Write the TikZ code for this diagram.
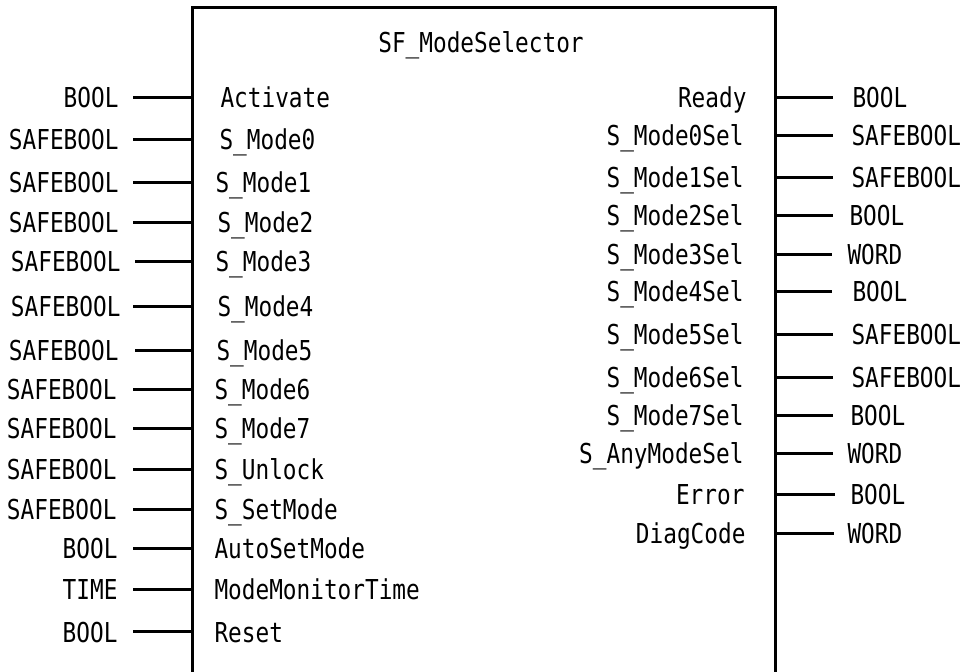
\documentclass[tikz,border=0pt]{standalone}
\usepackage{fontspec}
\newfontfamily\plcfont[FakeStretch=0.83]{DejaVu Sans Mono}

\begin{document}
\begin{tikzpicture}[x=0.5pt, y=-0.5pt, line width=1.5pt,
  every node/.style={font=\plcfont\fontsize{13.7pt}{16pt}\selectfont,
    inner sep=0pt, text height=10pt, text depth=0pt},
  inport/.style={anchor=west}, outport/.style={anchor=east},
  intype/.style={anchor=east}, outtype/.style={anchor=west}]
  \useasboundingbox (0,0) rectangle (963,672);

  % 功能块外框（下边在图外）
  \coordinate (bL) at (192,8);
  \coordinate (bR) at (775,8);
  \draw (bL |- 0,672) -- (bL) -- (bR) -- (bR |- 0,672);
  \node (title) at (481,43) {SF\_ModeSelector};

  % 输入
  \node[intype] (tAct) at (120,98) {BOOL};      \node[inport] (act) at (219,98) {Activate};
  \draw (tAct.east) ++(13,0) -- (bL |- act);
  \node[intype] (tM0) at (120,140) {SAFEBOOL};  \node[inport] (m0) at (218,140) {S\_Mode0};
  \draw (tM0.east) ++(13,0) -- (bL |- m0);
  \node[intype] (tM1) at (120,183) {SAFEBOOL};  \node[inport] (m1) at (214,183) {S\_Mode1};
  \draw (tM1.east) ++(13,0) -- (bL |- m1);
  \node[intype] (tM2) at (120,223) {SAFEBOOL};  \node[inport] (m2) at (216,223) {S\_Mode2};
  \draw (tM2.east) ++(13,0) -- (bL |- m2);
  \node[intype] (tM3) at (122,262) {SAFEBOOL};  \node[inport] (m3) at (214,262) {S\_Mode3};
  \draw (tM3.east) ++(13,0) -- (bL |- m3);
  \node[intype] (tM4) at (122,307) {SAFEBOOL};  \node[inport] (m4) at (216,307) {S\_Mode4};
  \draw (tM4.east) ++(11,0) -- (bL |- m4);
  \node[intype] (tM5) at (120,351) {SAFEBOOL};  \node[inport] (m5) at (215,351) {S\_Mode5};
  \draw (tM5.east) ++(15,0) -- (bL |- m5);
  \node[intype] (tM6) at (118,390) {SAFEBOOL};  \node[inport] (m6) at (213,390) {S\_Mode6};
  \draw (tM6.east) ++(15,0) -- (bL |- m6);
  \node[intype] (tM7) at (118,429) {SAFEBOOL};  \node[inport] (m7) at (213,429) {S\_Mode7};
  \draw (tM7.east) ++(15,0) -- (bL |- m7);
  \node[intype] (tUnl) at (118,470) {SAFEBOOL}; \node[inport] (unl) at (213,470) {S\_Unlock};
  \draw (tUnl.east) ++(15,0) -- (bL |- unl);
  \node[intype] (tSet) at (118,510) {SAFEBOOL}; \node[inport] (set) at (213,510) {S\_SetMode};
  \draw (tSet.east) ++(15,0) -- (bL |- set);
  \node[intype] (tAuto) at (119,549) {BOOL};    \node[inport] (auto) at (213,549) {AutoSetMode};
  \draw (tAuto.east) ++(14,0) -- (bL |- auto);
  \node[intype] (tMon) at (119,590) {TIME};     \node[inport] (mon) at (213,590) {ModeMonitorTime};
  \draw (tMon.east) ++(14,0) -- (bL |- mon);
  \node[intype] (tRst) at (119,632) {BOOL};     \node[inport] (rst) at (213,632) {Reset};
  \draw (tRst.east) ++(14,0) -- (bL |- rst);

  % 输出
  \node[outport] (rdy) at (748,98) {Ready};           \node[outtype] (tRdy) at (851,98) {BOOL};
  \draw (bR |- rdy) -- ++(58,0);
  \node[outport] (s0) at (745,136) {S\_Mode0Sel};     \node[outtype] (tS0) at (850,136) {SAFEBOOL};
  \draw (bR |- s0) -- ++(58,0);
  \node[outport] (s1) at (745,178) {S\_Mode1Sel};     \node[outtype] (tS1) at (850,178) {SAFEBOOL};
  \draw (bR |- s1) -- ++(58,0);
  \node[outport] (s2) at (745,216) {S\_Mode2Sel};     \node[outtype] (tS2) at (848,216) {BOOL};
  \draw (bR |- s2) -- ++(58,0);
  \node[outport] (s3) at (745,255) {S\_Mode3Sel};     \node[outtype] (tS3) at (846,255) {WORD};
  \draw (bR |- s3) -- ++(57,0);
  \node[outport] (s4) at (745,292) {S\_Mode4Sel};     \node[outtype] (tS4) at (851,292) {BOOL};
  \draw (bR |- s4) -- ++(57,0);
  \node[outport] (s5) at (745,335) {S\_Mode5Sel};     \node[outtype] (tS5) at (850,335) {SAFEBOOL};
  \draw (bR |- s5) -- ++(58,0);
  \node[outport] (s6) at (745,378) {S\_Mode6Sel};     \node[outtype] (tS6) at (850,378) {SAFEBOOL};
  \draw (bR |- s6) -- ++(58,0);
  \node[outport] (s7) at (745,416) {S\_Mode7Sel};     \node[outtype] (tS7) at (849,416) {BOOL};
  \draw (bR |- s7) -- ++(58,0);
  \node[outport] (sAny) at (745,454) {S\_AnyModeSel}; \node[outtype] (tSAny) at (846,454) {WORD};
  \draw (bR |- sAny) -- ++(58,0);
  \node[outport] (err) at (746,495) {Error};          \node[outtype] (tErr) at (849,495) {BOOL};
  \draw (bR |- err) -- ++(60,0);
  \node[outport] (diag) at (747,534) {DiagCode};      \node[outtype] (tDiag) at (846,534) {WORD};
  \draw (bR |- diag) -- ++(59,0);
\end{tikzpicture}
\end{document}
